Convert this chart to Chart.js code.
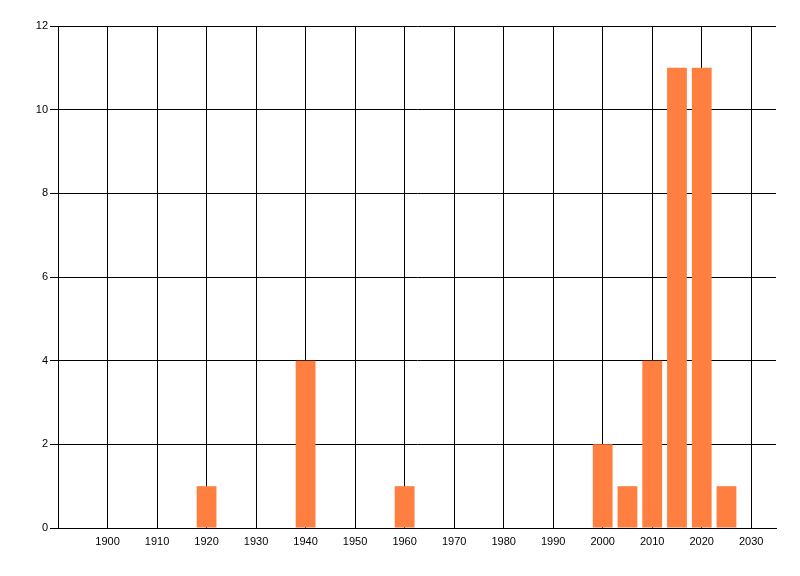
<!DOCTYPE html>
<html>
<head>
<meta charset="utf-8">
<script src="https://cdn.jsdelivr.net/npm/chart.js@4"></script>
<style>
  html, body { margin: 0; padding: 0; background: #fff; }
  #wrap { width: 800px; height: 576px; position: relative; }
</style>
</head>
<body>
<div id="wrap"><canvas id="chart"></canvas></div>
<script>
// values
const years = [1920, 1940, 1960, 2000, 2005, 2010, 2015, 2020, 2025];
const counts = [1, 4, 1, 2, 1, 4, 11, 11, 1];
const xTickFirst = 1900;
const xTickLast = 2030;

const points = years.map((y, i) => ({ x: y, y: counts[i] }));

const ctx = document.getElementById('chart').getContext('2d');
new Chart(ctx, {
    type: 'bar',
    data: {
        datasets: [{
            data: points,
            backgroundColor: '#ff7f40',
            borderWidth: 0,
            barPercentage: 1,
            categoryPercentage: 0.8
        }]
    },
    options: {
        responsive: true,
        maintainAspectRatio: false,
        animation: false,
        layout: { padding: { left: 0, right: 24, top: 26, bottom: 0 } },
        plugins: { legend: { display: false }, tooltip: { enabled: false } },
        scales: {
            x: {
                type: 'linear',
                min: 1890,
                max: 2035,
                offset: false,
                afterBuildTicks: (scale) => {
                    scale.ticks = scale.ticks.filter(t => t.value >= xTickFirst && t.value <= xTickLast);
                },
                afterFit: (scale) => { scale.height = 48; },
                grid: { color: '#000', lineWidth: 1, drawTicks: false, offset: false },
                border: { color: '#000', width: 1 },
                ticks: {
                    stepSize: 10,
                    includeBounds: false,
                    padding: 7,
                    color: '#000',
                    maxRotation: 0,
                    autoSkip: false,
                    font: { family: 'Liberation Sans', size: 11 },
                    callback: (v) => String(v)
                }
            },
            y: {
                min: 0,
                max: 12,
                afterFit: (scale) => { scale.width = 58; },
                grid: { color: '#000', lineWidth: 1, tickLength: 8 },
                border: { color: '#000', width: 1 },
                ticks: {
                    stepSize: 2,
                    padding: 2,
                    color: '#000',
                    font: { family: 'Liberation Sans', size: 11 }
                }
            }
        }
    }
});
</script>
</body>
</html>
